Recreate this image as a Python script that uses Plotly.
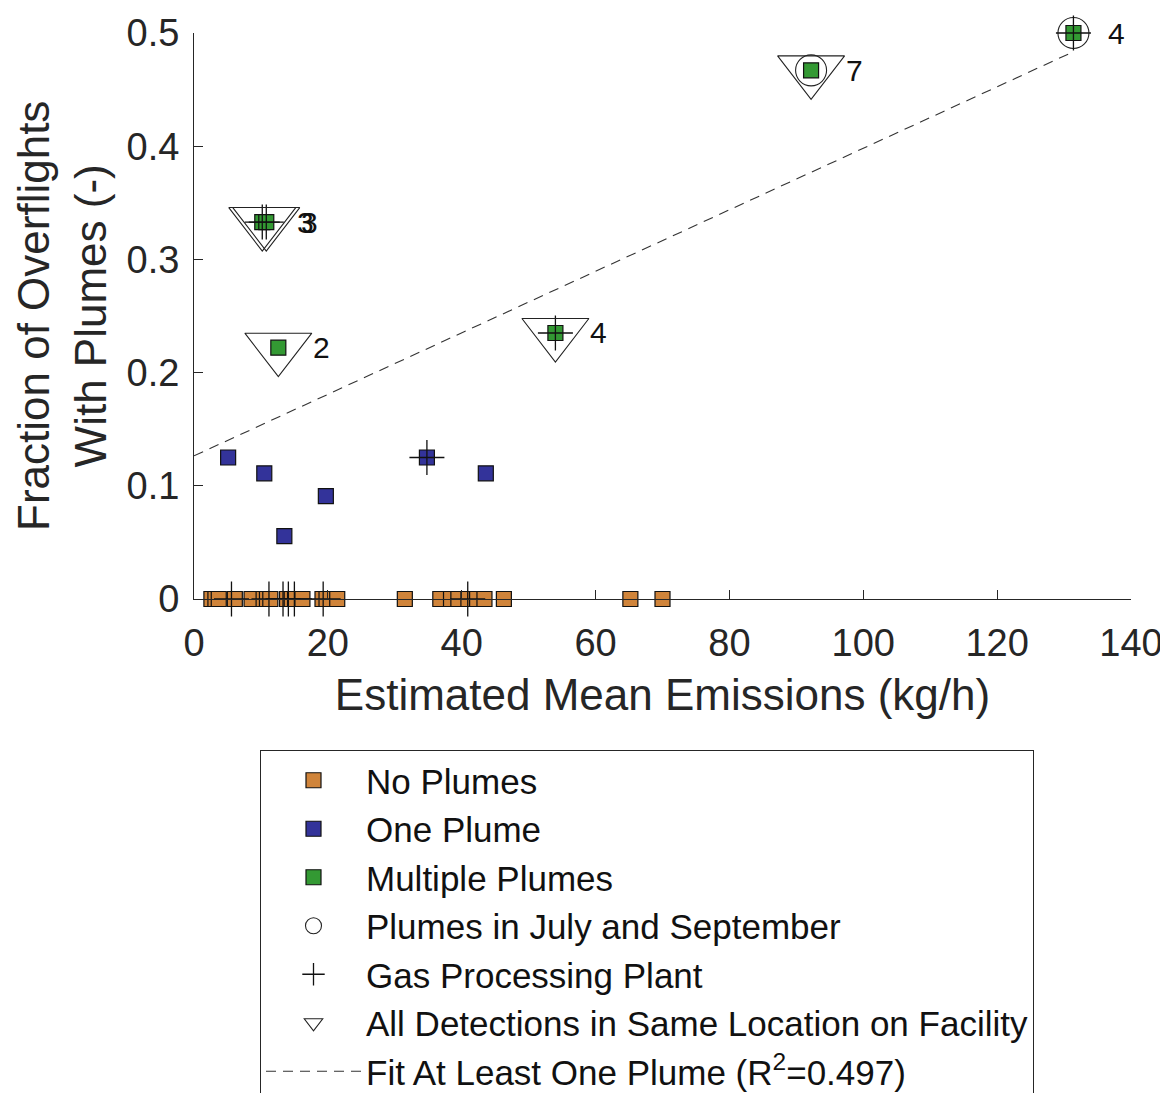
import numpy as np
import plotly.graph_objects as go

# ---------------- data ----------------
no_plume_x = [2.6, 3.2, 3.7, 6.1, 8.6, 10.4, 10.9, 11.4, 13.9, 14.6, 15.1, 16.2,
              19.2, 19.8, 21.4, 31.5, 36.8, 38.4, 39.5, 41.0, 42.3, 43.4,
              46.3, 65.2, 70.0]
no_plume_y = [0.0] * len(no_plume_x)

one_plume_x = [5.1, 10.5, 13.5, 19.7, 34.8, 43.6]
one_plume_y = [0.125, 0.111, 0.0556, 0.0909, 0.125, 0.111]

multi_x = [10.2, 10.8, 12.6, 54.0, 92.2, 131.4]
multi_y = [0.333, 0.333, 0.222, 0.235, 0.467, 0.5]
multi_labels = ["3", "3", "2", "4", "7", "4"]

july_sept_x = [92.2, 131.4]
july_sept_y = [0.467, 0.5]

plant_x = [5.6, 11.2, 13.3, 14.1, 15.0, 19.3, 40.9, 34.8, 10.2, 10.8, 54.0, 131.4]
plant_y = [0, 0, 0, 0, 0, 0, 0, 0.125, 0.333, 0.333, 0.235, 0.5]

same_loc_x = [10.2, 10.8, 12.6, 54.0, 92.2]
same_loc_y = [0.333, 0.333, 0.222, 0.235, 0.467]

x_ticks = [0, 20, 40, 60, 80, 100, 120, 140]
y_ticks = [0, 0.1, 0.2, 0.3, 0.4, 0.5]

x_title = "Estimated Mean Emissions (kg/h)"
y_title = "Fraction of Overflights<br>With Plumes (-)"
fit_label = "Fit At Least One Plume (R<sup>2</sup>=0.497)"

# linear fit through all facilities with at least one plume
fx = np.array(one_plume_x + multi_x)
fy = np.array(one_plume_y + multi_y)
slope, intercept = np.polyfit(fx, fy, 1)
fit_x = np.array([0.0, fx.max()])
fit_y = intercept + slope * fit_x

# ---------------- styling ----------------
FONT = "Liberation Sans, Arial, Helvetica, sans-serif"
AX = "#262626"
ORANGE = "#D0843A"
BLUE = "#33339A"
GREEN = "#339933"

# the page places the figure 8 px from the window's top-left corner
W, H = 1160, 1085
ML, MR, MT, MB = 186, 37, 25, 494

fig = go.Figure()

def squares(x, y, color, name):
    fig.add_trace(go.Scatter(
        x=x, y=y, mode="markers", name=name, cliponaxis=False,
        marker=dict(symbol="square", size=15, color=color,
                    line=dict(color="#111111", width=1.2))))

squares(no_plume_x, no_plume_y, ORANGE, "No Plumes")
squares(one_plume_x, one_plume_y, BLUE, "One Plume")
squares(multi_x, multi_y, GREEN, "Multiple Plumes")

fig.add_trace(go.Scatter(
    x=july_sept_x, y=july_sept_y, mode="markers", cliponaxis=False,
    name="Plumes in July and September",
    marker=dict(symbol="circle-open", size=31, color="#222222",
                line=dict(color="#222222", width=1.1))))

fig.add_trace(go.Scatter(
    x=plant_x, y=plant_y, mode="markers", cliponaxis=False,
    name="Gas Processing Plant",
    marker=dict(symbol="cross-thin-open", size=25, color="#111111",
                line=dict(color="#111111", width=1.3))))

fig.add_trace(go.Scatter(
    x=same_loc_x, y=same_loc_y, mode="markers", cliponaxis=False,
    name="All Detections in Same Location on Facility",
    marker=dict(symbol="triangle-down-open", size=58, color="#222222",
                line=dict(color="#222222", width=1.1))))

fig.add_trace(go.Scatter(
    x=fit_x, y=fit_y, mode="lines", cliponaxis=False, name=fit_label,
    line=dict(color="#333333", width=1.1, dash="10px,7px")))

for xv, yv, lab in zip(multi_x, multi_y, multi_labels):
    fig.add_annotation(x=xv, y=yv, text=lab, showarrow=False,
                       xanchor="left", yanchor="middle", xshift=33,
                       font=dict(family=FONT, size=30, color="#111111"))

# y-axis title (two lines, rotated)
fig.add_annotation(xref="paper", yref="paper", x=0, y=0.5,
                   text=y_title, textangle=-90, showarrow=False,
                   xanchor="center", yanchor="middle", xshift=54 - ML,
                   font=dict(family=FONT, size=44, color=AX))

fig.update_layout(
    width=W, height=H,
    margin=dict(l=ML, r=MR, t=MT, b=MB, autoexpand=False),
    paper_bgcolor="white", plot_bgcolor="white",
    font=dict(family=FONT, color=AX),
    showlegend=True,
    legend=dict(
        xref="container", yref="container",
        x=(260 - 8) / W, xanchor="left",
        y=1 - (750 - 8) / H, yanchor="top",
        bgcolor="white", bordercolor=AX, borderwidth=1,
        font=dict(family=FONT, size=35, color="#111111"),
        itemwidth=95, tracegroupgap=0,
    ),
)

fig.update_xaxes(
    range=[0, 140], tickvals=x_ticks, ticks="inside", ticklen=9,
    tickwidth=1, tickcolor=AX, showline=True, linecolor=AX, linewidth=1,
    showgrid=False, zeroline=False, mirror=False, automargin=True,
    tickfont=dict(family=FONT, size=38, color=AX), ticklabelstandoff=10,
    title=dict(text=x_title, standoff=16,
               font=dict(family=FONT, size=44, color=AX)),
)
fig.update_yaxes(
    range=[0, 0.5], tickvals=y_ticks, ticks="inside", ticklen=9,
    tickwidth=1, tickcolor=AX, showline=True, linecolor=AX, linewidth=1,
    showgrid=False, zeroline=False, mirror=False, automargin=False,
    tickfont=dict(family=FONT, size=38, color=AX), ticklabelstandoff=6,
)

fig.write_html("out.html")
